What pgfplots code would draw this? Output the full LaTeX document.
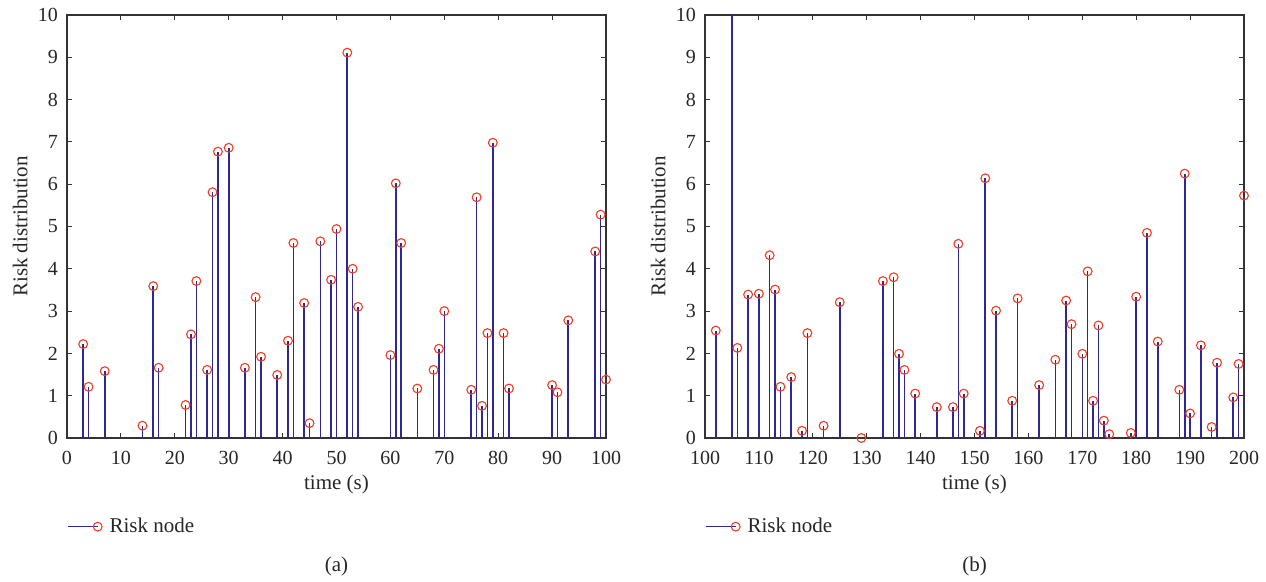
\documentclass[border=0pt]{standalone}
\usepackage{fontspec}
\setmainfont{Liberation Serif}
\usepackage{pgfplots}
\pgfplotsset{compat=1.18}
\definecolor{stemc}{RGB}{45,40,150}
\definecolor{markc}{RGB}{240,60,35}

\pgfplotstableread{
x y
3 2.22
4 1.21
7 1.58
14 0.29
16 3.59
17 1.66
22 0.78
23 2.45
24 3.71
26 1.61
27 5.81
28 6.77
30 6.86
33 1.66
35 3.33
36 1.92
39 1.49
41 2.30
42 4.61
44 3.19
45 0.35
47 4.65
49 3.74
50 4.94
52 9.11
53 4.00
54 3.10
60 1.96
61 6.02
62 4.61
65 1.17
68 1.61
69 2.11
70 3.00
75 1.14
76 5.69
77 0.76
78 2.48
79 6.98
81 2.48
82 1.17
90 1.25
91 1.08
93 2.78
98 4.41
99 5.28
100 1.38
}\dataA

\pgfplotstableread{
x y
102 2.54
106 2.13
108 3.39
110 3.41
112 4.32
113 3.51
114 1.21
116 1.44
118 0.17
119 2.48
122 0.29
125 3.21
129 0.00
133 3.71
135 3.80
136 1.99
137 1.61
139 1.05
143 0.73
146 0.73
147 4.59
148 1.05
151 0.17
152 6.14
154 3.01
157 0.88
158 3.30
162 1.25
165 1.85
167 3.25
168 2.69
170 1.99
171 3.94
172 0.88
173 2.66
174 0.41
175 0.09
179 0.12
180 3.34
182 4.85
184 2.28
188 1.14
189 6.25
190 0.58
192 2.19
194 0.26
195 1.78
198 0.96
199 1.75
200 5.73
}\dataB

\newcommand{\lblfont}{\fontsize{10.5}{12}\selectfont}
\newcommand{\tckfont}{\fontsize{10}{12}\selectfont}

\pgfplotsset{riskax/.style={
  scale only axis, width=269.5pt, height=211.5pt,
  ymin=0, ymax=10, ytick={0,1,...,10},
  tick align=inside, xtick pos=both, ytick pos=both,
  major tick length=2.5pt,
  axis line style={black!80, line width=0.6pt},
  every tick/.style={black!80, line width=0.5pt},
  tick label style={font=\tckfont, black!85},
  xticklabel style={yshift=-3pt},
  yticklabel style={xshift=-1pt},
  label style={font=\lblfont, black!85},
  /pgf/number format/assume math mode=true,
  xlabel={time (s)}, ylabel={Risk distribution},
  xlabel style={at={(axis description cs:0.5,-0.111)}, anchor=center},
  ylabel style={at={(axis description cs:-0.087,0.5)}, anchor=center},
  legend style={draw=none, fill=none, at={(0,-0.2097)}, anchor=west,
    font=\lblfont, inner sep=0pt, outer sep=0pt, text=black!85},
  legend cell align=left,
  legend image code/.code={
    \draw[stemc, line width=0.7pt] (0pt,0pt) -- (15pt,0pt);
    \draw[markc, line width=0.55pt] (15pt,0pt) circle (2.2pt);
  },
  stemplot/.style={ycomb, color=stemc, line width=0.8pt,
    mark=o, mark size=2.2pt,
    mark options={draw=markc, line width=0.55pt, fill=none}},
}}

\begin{document}
\begin{tikzpicture}
\useasboundingbox (-33.5pt,-72pt) rectangle (599.5pt,219pt);
\begin{axis}[riskax, name=axA, at={(0pt,0pt)}, anchor=south west,
  xmin=0, xmax=100, xtick={0,10,...,100}]
  \addplot[stemplot] table[x=x,y=y] {\dataA};
  \addlegendentry{\hspace*{1.5pt}Risk node}
\end{axis}
\begin{axis}[riskax, name=axB, at={(319pt,0pt)}, anchor=south west,
  xmin=100, xmax=200, xtick={100,110,...,200}]
  \addplot[stemplot] table[x=x,y=y] {\dataB};
  \addlegendentry{\hspace*{1.5pt}Risk node}
  \addplot[ycomb, color=stemc, line width=0.8pt, no marks, forget plot] coordinates {(100,1.38) (105,12)};
\end{axis}
\node[font=\lblfont, text=black!85] at ([yshift=-64.3pt]axA.south) {(a)};
\node[font=\lblfont, text=black!85] at ([yshift=-64.3pt]axB.south) {(b)};
\end{tikzpicture}
\end{document}
